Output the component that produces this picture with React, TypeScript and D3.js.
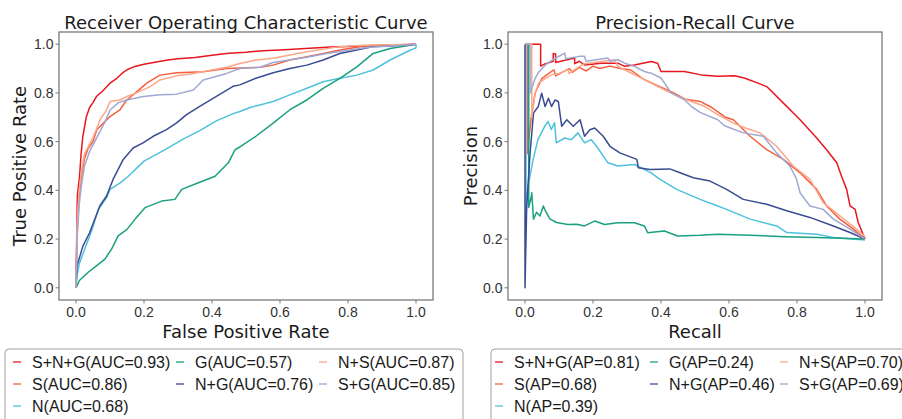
import React from 'react';
import * as d3 from 'd3';

type Pt = [number, number];

const seriesNames = ['S+N+G', 'S', 'N', 'G', 'N+G', 'N+S', 'S+G'];
const seriesColors = ['#e8171f', '#f4603f', '#4ec1dd', '#1a9f80', '#3a4b92', '#fca68a', '#9ea8d3'];
const aucValues = [0.93, 0.86, 0.68, 0.57, 0.76, 0.87, 0.85];
const apValues = [0.81, 0.68, 0.39, 0.24, 0.46, 0.7, 0.69];
const tickValues = [0, 0.2, 0.4, 0.6, 0.8, 1.0];
// legend slots (column, row) as laid out in the reference
const legendSlots: [number, number][] = [[0, 0], [0, 1], [0, 2], [1, 0], [1, 1], [2, 0], [2, 1]];

// ROC curves: [FPR, TPR]
const rocSNG: Pt[] = [[0,0],[0.002,0.2],[0.004,0.38],[0.01,0.45],[0.015,0.55],[0.02,0.62],[0.03,0.7],[0.04,0.74],[0.05,0.76],[0.06,0.785],[0.08,0.81],[0.1,0.84],[0.12,0.86],[0.135,0.88],[0.15,0.895],[0.17,0.907],[0.2,0.918],[0.24,0.928],[0.27,0.935],[0.3,0.94],[0.35,0.945],[0.4,0.955],[0.45,0.963],[0.5,0.967],[0.55,0.973],[0.6,0.976],[0.65,0.98],[0.7,0.984],[0.75,0.988],[0.8,0.99],[0.85,0.994],[0.9,0.996],[0.95,0.998],[1,1]];
const rocS: Pt[] = [[0,0],[0.003,0.22],[0.008,0.35],[0.015,0.45],[0.025,0.53],[0.035,0.57],[0.05,0.6],[0.061,0.649],[0.08,0.675],[0.1,0.703],[0.129,0.73],[0.149,0.771],[0.175,0.8],[0.208,0.84],[0.247,0.873],[0.296,0.883],[0.374,0.887],[0.443,0.9],[0.541,0.905],[0.58,0.914],[0.629,0.935],[0.679,0.948],[0.727,0.962],[0.776,0.976],[0.835,0.989],[0.874,0.993],[0.943,0.996],[1,1]];
const rocN: Pt[] = [[0,0],[0.003,0.05],[0.01,0.1],[0.026,0.16],[0.045,0.23],[0.066,0.322],[0.09,0.37],[0.1,0.404],[0.13,0.431],[0.154,0.458],[0.2,0.52],[0.262,0.567],[0.315,0.61],[0.364,0.645],[0.413,0.685],[0.462,0.715],[0.482,0.724],[0.512,0.74],[0.58,0.765],[0.629,0.792],[0.679,0.819],[0.727,0.846],[0.776,0.86],[0.826,0.873],[0.874,0.894],[0.924,0.935],[0.973,0.969],[1,0.985],[1,1]];
const rocG: Pt[] = [[0,0],[0.01,0.03],[0.036,0.064],[0.06,0.09],[0.085,0.118],[0.105,0.16],[0.124,0.213],[0.15,0.24],[0.174,0.282],[0.203,0.329],[0.252,0.356],[0.291,0.363],[0.311,0.404],[0.36,0.431],[0.409,0.458],[0.448,0.513],[0.468,0.567],[0.482,0.578],[0.529,0.622],[0.58,0.676],[0.629,0.731],[0.679,0.771],[0.727,0.819],[0.776,0.86],[0.826,0.907],[0.874,0.962],[0.924,0.982],[1,1]];
const rocNG: Pt[] = [[0,0],[0.003,0.09],[0.02,0.17],[0.04,0.226],[0.07,0.336],[0.09,0.377],[0.109,0.445],[0.139,0.527],[0.168,0.574],[0.197,0.595],[0.227,0.622],[0.266,0.649],[0.296,0.677],[0.325,0.711],[0.364,0.745],[0.413,0.786],[0.462,0.827],[0.482,0.833],[0.529,0.86],[0.58,0.883],[0.629,0.9],[0.679,0.914],[0.727,0.935],[0.776,0.962],[0.826,0.976],[0.874,0.99],[0.924,0.993],[1,1]];
const rocNS: Pt[] = [[0,0],[0.003,0.25],[0.008,0.38],[0.015,0.47],[0.025,0.55],[0.04,0.59],[0.051,0.62],[0.071,0.69],[0.09,0.73],[0.1,0.765],[0.129,0.771],[0.149,0.785],[0.178,0.8],[0.218,0.826],[0.247,0.853],[0.296,0.87],[0.345,0.88],[0.443,0.905],[0.482,0.921],[0.53,0.935],[0.58,0.942],[0.679,0.969],[0.776,0.99],[0.85,0.996],[1,1]];
const rocSG: Pt[] = [[0,0],[0.003,0.2],[0.01,0.35],[0.016,0.42],[0.025,0.5],[0.04,0.56],[0.055,0.6],[0.07,0.64],[0.085,0.68],[0.1,0.73],[0.125,0.76],[0.149,0.771],[0.198,0.785],[0.247,0.792],[0.296,0.795],[0.345,0.812],[0.374,0.853],[0.443,0.88],[0.482,0.9],[0.541,0.905],[0.58,0.925],[0.679,0.946],[0.737,0.962],[0.806,0.976],[0.855,0.986],[0.924,0.993],[1,1]];

// PR curves: [Recall, Precision]
const prSNG: Pt[] = [[0,1],[0.046,1],[0.046,0.91],[0.06,0.92],[0.083,0.93],[0.083,0.962],[0.09,0.96],[0.09,0.925],[0.146,0.943],[0.146,0.92],[0.16,0.93],[0.175,0.915],[0.224,0.922],[0.273,0.922],[0.293,0.909],[0.322,0.915],[0.371,0.929],[0.39,0.922],[0.4,0.888],[0.469,0.888],[0.518,0.874],[0.567,0.868],[0.616,0.87],[0.645,0.861],[0.685,0.84],[0.711,0.826],[0.76,0.758],[0.809,0.69],[0.858,0.615],[0.887,0.567],[0.917,0.513],[0.931,0.458],[0.946,0.404],[0.956,0.336],[0.971,0.322],[0.98,0.268],[1,0.2]];
const prS: Pt[] = [[0,1],[0.008,1],[0.008,0.55],[0.012,0.62],[0.02,0.72],[0.03,0.8],[0.05,0.86],[0.07,0.88],[0.085,0.895],[0.09,0.87],[0.11,0.885],[0.13,0.9],[0.14,0.885],[0.16,0.905],[0.18,0.89],[0.2,0.91],[0.22,0.9],[0.25,0.91],[0.28,0.9],[0.31,0.895],[0.35,0.855],[0.39,0.83],[0.43,0.805],[0.47,0.775],[0.515,0.765],[0.55,0.74],[0.59,0.7],[0.613,0.69],[0.662,0.622],[0.711,0.567],[0.76,0.527],[0.809,0.472],[0.858,0.404],[0.887,0.336],[0.926,0.282],[0.966,0.241],[1,0.2]];
const prN: Pt[] = [[0,1],[0.003,1],[0.003,0.3],[0.009,0.417],[0.024,0.527],[0.038,0.608],[0.058,0.663],[0.068,0.683],[0.077,0.65],[0.087,0.677],[0.092,0.595],[0.117,0.615],[0.136,0.608],[0.156,0.636],[0.175,0.595],[0.195,0.608],[0.214,0.574],[0.244,0.513],[0.273,0.5],[0.322,0.506],[0.371,0.472],[0.397,0.445],[0.446,0.404],[0.515,0.363],[0.567,0.336],[0.593,0.322],[0.662,0.282],[0.74,0.254],[0.77,0.227],[0.858,0.22],[0.907,0.207],[1,0.196]];
const prG: Pt[] = [[0,1],[0.011,1],[0.011,0.33],[0.019,0.377],[0.02,0.39],[0.025,0.282],[0.034,0.31],[0.044,0.295],[0.054,0.336],[0.058,0.322],[0.068,0.295],[0.074,0.282],[0.093,0.268],[0.126,0.26],[0.152,0.261],[0.175,0.254],[0.205,0.274],[0.234,0.26],[0.273,0.267],[0.322,0.267],[0.351,0.254],[0.361,0.226],[0.41,0.233],[0.449,0.213],[0.515,0.216],[0.567,0.22],[0.662,0.216],[0.763,0.21],[0.858,0.207],[1,0.2]];
const prNG: Pt[] = [[0,1],[0,0],[0.005,0.336],[0.015,0.554],[0.025,0.717],[0.039,0.744],[0.049,0.799],[0.059,0.744],[0.069,0.778],[0.078,0.744],[0.088,0.771],[0.098,0.765],[0.108,0.663],[0.123,0.69],[0.142,0.663],[0.162,0.69],[0.175,0.622],[0.191,0.649],[0.205,0.656],[0.23,0.622],[0.25,0.581],[0.279,0.554],[0.329,0.527],[0.333,0.493],[0.368,0.486],[0.426,0.488],[0.456,0.472],[0.495,0.452],[0.544,0.438],[0.593,0.404],[0.642,0.363],[0.711,0.343],[0.77,0.316],[0.838,0.289],[0.907,0.254],[0.956,0.227],[1,0.2]];
const prNS: Pt[] = [[0,1],[0.02,1],[0.02,0.7],[0.03,0.8],[0.04,0.84],[0.06,0.86],[0.08,0.875],[0.1,0.88],[0.126,0.895],[0.13,0.88],[0.156,0.905],[0.175,0.92],[0.22,0.928],[0.264,0.936],[0.273,0.909],[0.303,0.888],[0.332,0.868],[0.371,0.84],[0.41,0.813],[0.45,0.786],[0.489,0.765],[0.528,0.745],[0.567,0.711],[0.613,0.676],[0.65,0.655],[0.691,0.636],[0.74,0.581],[0.789,0.5],[0.838,0.445],[0.877,0.35],[0.926,0.295],[0.975,0.241],[1,0.21]];
const prSG: Pt[] = [[0,1],[0.015,1],[0.015,0.8],[0.02,0.82],[0.03,0.86],[0.04,0.885],[0.06,0.915],[0.08,0.935],[0.117,0.963],[0.12,0.94],[0.16,0.95],[0.175,0.95],[0.18,0.93],[0.244,0.943],[0.25,0.93],[0.273,0.936],[0.293,0.922],[0.322,0.909],[0.351,0.888],[0.371,0.881],[0.4,0.861],[0.43,0.8],[0.469,0.772],[0.489,0.745],[0.515,0.72],[0.567,0.69],[0.587,0.665],[0.642,0.636],[0.701,0.622],[0.74,0.554],[0.779,0.5],[0.799,0.445],[0.809,0.39],[0.838,0.336],[0.877,0.322],[0.907,0.282],[0.956,0.241],[1,0.2]];

const rocSeries = [rocSNG, rocS, rocN, rocG, rocNG, rocNS, rocSG];
const prSeries = [prSNG, prS, prN, prG, prNG, prNS, prSG];

const TITLE_FONT = '"DejaVu Sans", sans-serif';
const TICK_FONT = '"Liberation Sans", Arial, sans-serif';

interface PanelProps {
  x0: number; x1: number; title: string; xLabel: string; yLabel: string; yLabelX: number;
  data: Pt[][];
}

function Panel({ x0, x1, title, xLabel, yLabel, yLabelX, data }: PanelProps) {
  const top = 32, bottom = 300;
  const xs = d3.scaleLinear().domain([-0.05, 1.05]).range([x0, x1]);
  const ys = d3.scaleLinear().domain([-0.05, 1.05]).range([bottom, top]);
  const line = d3.line<Pt>().x(d => xs(d[0])).y(d => ys(d[1]));
  const cx = (x0 + x1) / 2;
  const cy = (top + bottom) / 2;
  const fmt = d3.format('.1f');
  return (
    <g>
      <g>
        {data.map((s, i) => (
          <path key={i} d={line(s) || ''} fill="none" stroke={seriesColors[i]} strokeWidth={1.5} strokeLinejoin="round" />
        ))}
      </g>
      <rect x={x0} y={top} width={x1 - x0} height={bottom - top} fill="none" stroke="#7a7a7a" strokeWidth={1.3} />
      {tickValues.map(t => (
        <g key={'x' + t}>
          <line x1={xs(t)} x2={xs(t)} y1={bottom} y2={bottom + 3.5} stroke="#7a7a7a" strokeWidth={1} />
          <text x={xs(t)} y={317} textAnchor="middle" fontFamily={TICK_FONT} fontSize={14} fill="#333">{fmt(t)}</text>
        </g>
      ))}
      {tickValues.map(t => (
        <g key={'y' + t}>
          <line x1={x0 - 3.5} x2={x0} y1={ys(t)} y2={ys(t)} stroke="#7a7a7a" strokeWidth={1} />
          <text x={x0 - 5.5} y={ys(t)} dy="0.35em" textAnchor="end" fontFamily={TICK_FONT} fontSize={14} fill="#333">{fmt(t)}</text>
        </g>
      ))}
      <text x={cx} y={29} textAnchor="middle" fontFamily={TITLE_FONT} fontSize={18} fill="#1a1a1a">{title}</text>
      <text x={cx} y={338} textAnchor="middle" fontFamily={TITLE_FONT} fontSize={18} fill="#1a1a1a">{xLabel}</text>
      <text transform={`translate(${yLabelX},${cy}) rotate(-90)`} textAnchor="middle" fontFamily={TITLE_FONT} fontSize={18} fill="#1a1a1a">{yLabel}</text>
    </g>
  );
}

interface LegendProps { left: number; right: number; textX: number[]; labels: string[]; }

function Legend({ left, right, textX, labels }: LegendProps) {
  const top = 349;
  const rowY = [362, 384, 406];
  return (
    <g>
      <rect x={left} y={top} width={right - left} height={100} rx={4} ry={4} fill="#fff" stroke="#a0a0a0" strokeWidth={1} />
      {labels.map((lab, i) => {
        const [col, row] = legendSlots[i];
        const tx = textX[col];
        const y = rowY[row];
        return (
          <g key={i}>
            <line x1={tx - 19} x2={tx - 11} y1={y} y2={y} stroke={seriesColors[i]} strokeWidth={1.3} />
            <text x={tx} y={y} dy="0.35em" fontFamily={TICK_FONT} fontSize={16} fill="#1a1a1a">{lab}</text>
          </g>
        );
      })}
    </g>
  );
}

export default function App() {
  const rocLabels = seriesNames.map((n, i) => `${n}(AUC=${aucValues[i].toFixed(2)})`);
  const prLabels = seriesNames.map((n, i) => `${n}(AP=${apValues[i].toFixed(2)})`);
  return (
    <svg width={902} height={419} style={{ position: 'absolute', left: 0, top: 0, background: '#fff' }}>
      <rect x={0} y={0} width={902} height={419} fill="#fff" />
      <Panel x0={59} x1={433} title="Receiver Operating Characteristic Curve" xLabel="False Positive Rate" yLabel="True Positive Rate" yLabelX={26} data={rocSeries} />
      <Panel x0={508} x1={882} title="Precision-Recall Curve" xLabel="Recall" yLabel="Precision" yLabelX={477} data={prSeries} />
      <Legend left={5} right={463} textX={[32, 195, 338]} labels={rocLabels} />
      <Legend left={491} right={1000} textX={[514, 669, 799]} labels={prLabels} />
    </svg>
  );
}
